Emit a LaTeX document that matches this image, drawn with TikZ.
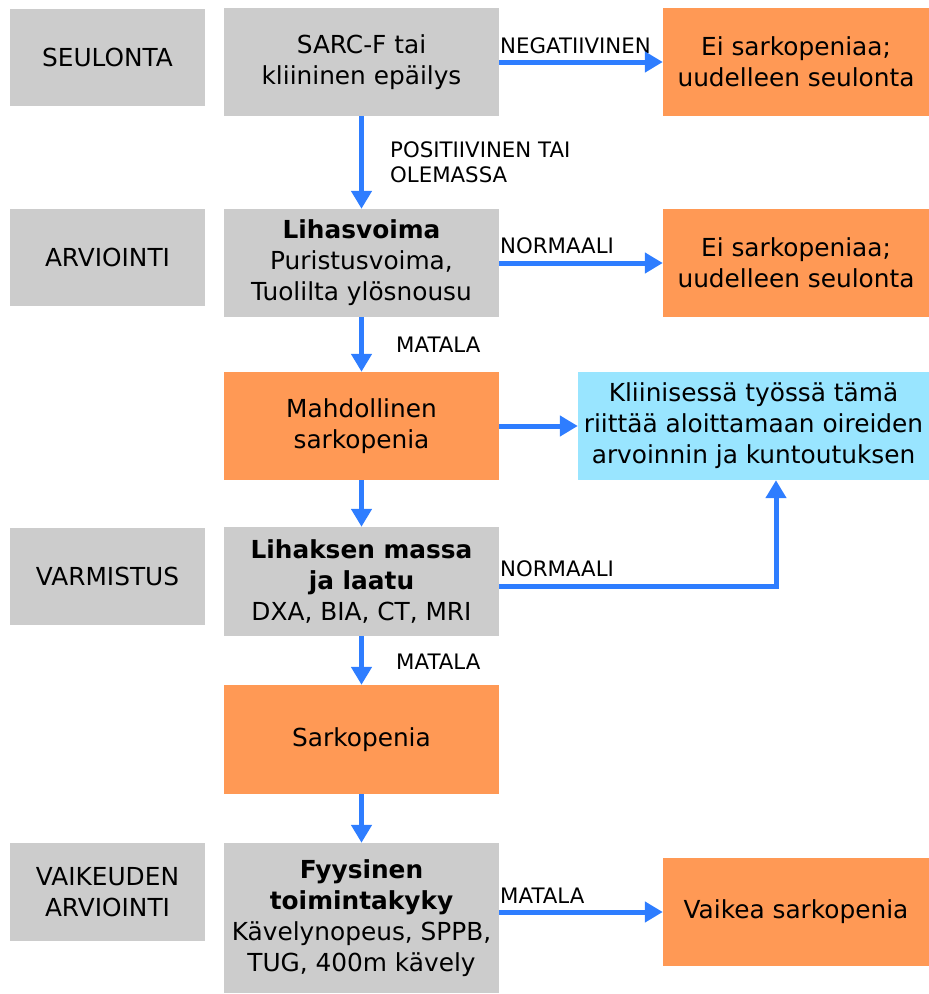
\documentclass[tikz,border=0pt]{standalone}
\usepackage{fontspec}
\setmainfont{DejaVu Sans}
\usetikzlibrary{arrows.meta}
\definecolor{boxgray}{HTML}{CCCCCC}
\definecolor{boxorange}{HTML}{FF9955}
\definecolor{boxblue}{HTML}{99E5FF}
\definecolor{arrowblue}{HTML}{2E7DFF}
\begin{document}
\begin{tikzpicture}[x=1pt,y=-1pt,
  box/.style={rectangle, inner sep=0pt, align=center, text=black,
    font=\fontsize{24.8}{31}\selectfont},
  graybox/.style={box, fill=boxgray},
  orangebox/.style={box, fill=boxorange},
  bluebox/.style={box, fill=boxblue},
  sidebox/.style={graybox, minimum width=195pt, minimum height=97pt},
  mainbox/.style={minimum width=275pt, minimum height=108pt},
  rightbox/.style={orangebox, minimum width=266pt, minimum height=108pt},
  lbl/.style={font=\fontsize{21.3}{25}\selectfont, inner sep=0pt, anchor=west, align=left},
  arr/.style={draw=arrowblue, line width=5pt, -{Triangle[length=18pt,width=20pt]}}]
\useasboundingbox (0,0) rectangle (929,994);
% left stage labels
\node[sidebox] (l1) at (107.5,57.5) {SEULONTA};
\node[sidebox] (l2) at (107.5,257.5) {ARVIOINTI};
\node[sidebox] (l3) at (107.5,576.5) {VARMISTUS};
\node[sidebox, minimum height=98pt] (l4) at (107.5,892) {VAIKEUDEN\\ARVIOINTI};
% main column
\node[graybox, mainbox] (b1) at (361.5,62) {SARC-F tai\\kliininen epäilys};
\node[graybox, mainbox] (b2) at (361.5,263) {\textbf{Lihasvoima}\\Puristusvoima,\\Tuolilta ylösnousu};
\node[orangebox, mainbox] (b3) at (361.5,426) {Mahdollinen\\sarkopenia};
\node[graybox, mainbox, minimum height=109pt] (b4) at (361.5,581.5) {\textbf{Lihaksen massa}\\\textbf{ja laatu}\\DXA, BIA, CT, MRI};
\node[orangebox, mainbox, minimum height=109pt] (b5) at (361.5,739.5) {Sarkopenia};
\node[graybox, mainbox, minimum height=150pt] (b6) at (361.5,918) {\textbf{Fyysinen}\\\textbf{toimintakyky}\\Kävelynopeus, SPPB,\\TUG, 400m kävely};
% right column
\node[rightbox] (r1) at (796,62) {Ei sarkopeniaa;\\uudelleen seulonta};
\node[rightbox] (r2) at (796,263) {Ei sarkopeniaa;\\uudelleen seulonta};
\node[rightbox] (r3) at (796,912) {Vaikea sarkopenia};
\node[bluebox, minimum width=351pt, minimum height=108pt] (bl) at (753.5,426) {Kliinisessä työssä tämä\\riittää aloittamaan oireiden\\arvoinnin ja kuntoutuksen};
% labels
\node[lbl] (t1) at (500,46) {NEGATIIVINEN};
\node[lbl] (t2) at (390,162) {POSITIIVINEN TAI\\OLEMASSA};
\node[lbl] (t3) at (500,246) {NORMAALI};
\node[lbl] (t4) at (396,345) {MATALA};
\node[lbl] (t5) at (500,569) {NORMAALI};
\node[lbl] (t6) at (396,662) {MATALA};
\node[lbl] (t7) at (500,896) {MATALA};
% arrows
\draw[arr] (b1) -- (r1);
\draw[arr] (b2) -- (r2);
\draw[arr] (b3) -- (bl);
\draw[arr] (b6.east |- r3.west) -- (r3.west);
\draw[arr] (b1) -- (b2);
\draw[arr] (b2) -- (b3);
\draw[arr] (b3) -- (b4);
\draw[arr] (b4) -- (b5);
\draw[arr] (b5) -- (b6);
\coordinate (bend) at (776,586);
\draw[arr] (b4.east |- bend) -- (bend) -- (bend |- bl.south);
\end{tikzpicture}
\end{document}
